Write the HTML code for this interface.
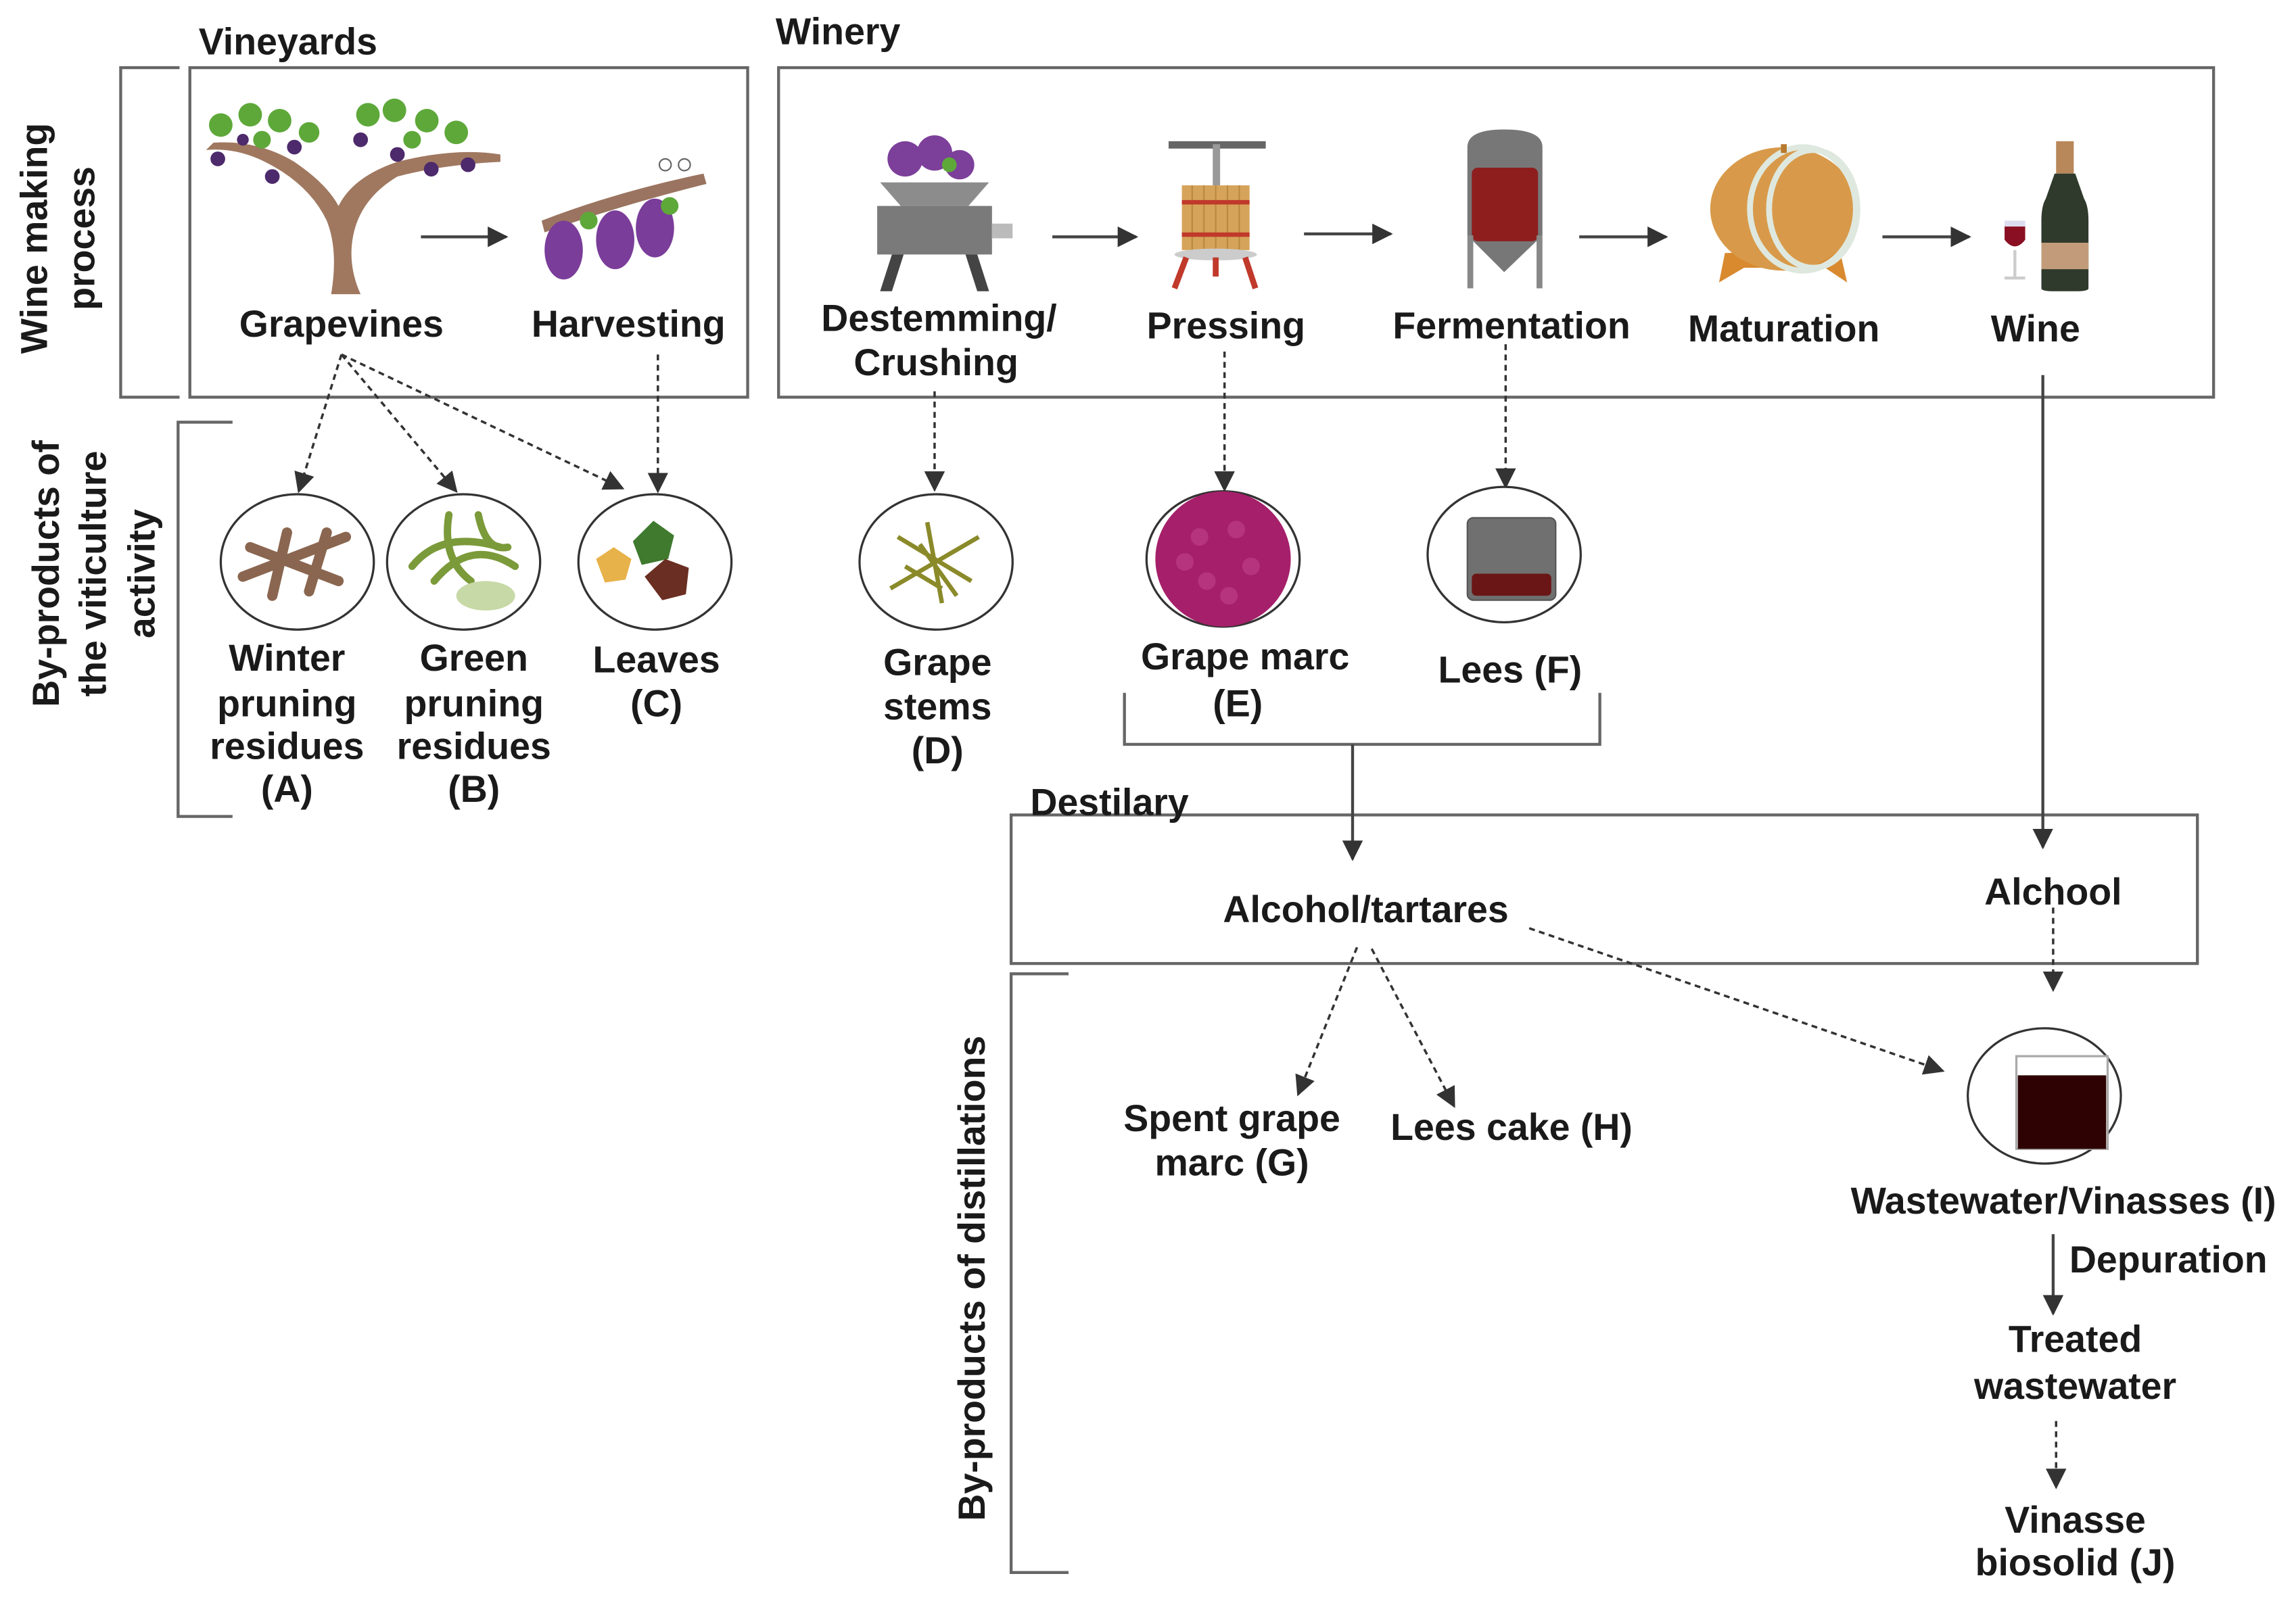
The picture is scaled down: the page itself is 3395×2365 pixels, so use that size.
<!DOCTYPE html>
<html><head><meta charset="utf-8">
<style>
html,body{margin:0;padding:0;background:#fff;}
svg{display:block;}
text{font-family:"Liberation Sans",Arial,sans-serif;font-weight:bold;fill:#1a1a1a;}
</style></head>
<body>
<svg width="3395" height="2365" viewBox="0 0 1560 1087" preserveAspectRatio="none" xmlns="http://www.w3.org/2000/svg">
<defs>
<marker id="ah2" viewBox="0 0 10 10" refX="9" refY="5" markerWidth="14" markerHeight="14" orient="auto" markerUnits="userSpaceOnUse">
<path d="M0,0 L10,5 L0,10 z" fill="#333"/></marker>
</defs>

<g fill="none" stroke="#666" stroke-width="2">
<rect x="129" y="46" width="379" height="224"/>
<rect x="529" y="46" width="975" height="224"/>
<rect x="687" y="554" width="806" height="101"/>
<polyline points="122,46 82,46 82,270 122,270"/>
<polyline points="158,287 121,287 121,555 158,555"/>
<polyline points="726,662 687,662 687,1069 726,1069"/>
<polyline points="764,471 764,506 1087,506 1087,471"/>
</g>

<text x="135" y="37" font-size="25.5">Vineyards</text>
<text x="527" y="30" font-size="25.5">Winery</text>
<text x="700" y="554" font-size="25.5">Destilary</text>

<text font-size="25.5" text-anchor="middle" transform="translate(32,162) rotate(-90)">Wine making</text>
<text font-size="25.5" text-anchor="middle" transform="translate(64,162) rotate(-90)">process</text>
<text font-size="25.5" text-anchor="middle" transform="translate(40,390) rotate(-90)">By-products of</text>
<text font-size="25.5" text-anchor="middle" transform="translate(72,390) rotate(-90)">the viticulture</text>
<text font-size="25.5" text-anchor="middle" transform="translate(105,390) rotate(-90)">activity</text>
<text font-size="25.5" text-anchor="middle" transform="translate(669,869) rotate(-90)">By-products of  distillations</text>

<g font-size="25.5" text-anchor="middle">
<text x="232" y="229">Grapevines</text>
<text x="427" y="229">Harvesting</text>
<text x="638" y="225">Destemming/</text>
<text x="636" y="255">Crushing</text>
<text x="833" y="230">Pressing</text>
<text x="1027" y="230">Fermentation</text>
<text x="1212" y="232">Maturation</text>
<text x="1383" y="232">Wine</text>

<text x="195" y="456">Winter</text>
<text x="195" y="487">pruning</text>
<text x="195" y="516">residues</text>
<text x="195" y="545">(A)</text>
<text x="322" y="456">Green</text>
<text x="322" y="487">pruning</text>
<text x="322" y="516">residues</text>
<text x="322" y="545">(B)</text>
<text x="446" y="457">Leaves</text>
<text x="446" y="487">(C)</text>
<text x="637" y="459">Grape</text>
<text x="637" y="489">stems</text>
<text x="637" y="519">(D)</text>
<text x="846" y="455">Grape marc</text>
<text x="841" y="487">(E)</text>
<text x="1026" y="464">Lees (F)</text>

<text x="928" y="627">Alcohol/tartares</text>
<text x="1395" y="615">Alchool</text>
<text x="837" y="769">Spent grape</text>
<text x="837" y="799">marc (G)</text>
<text x="1027" y="775">Lees cake (H)</text>
<text x="1402" y="825">Wastewater/Vinasses (I)</text>
<text x="1410" y="919">Treated</text>
<text x="1410" y="951">wastewater</text>
<text x="1410" y="1042">Vinasse</text>
<text x="1410" y="1071">biosolid (J)</text>
</g>
<text x="1406" y="865" font-size="25.5">Depuration</text>

<g stroke="#444" stroke-width="2" fill="none" marker-end="url(#ah2)">
<line x1="286" y1="161" x2="344" y2="161"/>
<line x1="715" y1="161" x2="772" y2="161"/>
<line x1="886" y1="159" x2="945" y2="159"/>
<line x1="1073" y1="161" x2="1132" y2="161"/>
<line x1="1279" y1="161" x2="1338" y2="161"/>
<line x1="919" y1="506" x2="919" y2="584"/>
<line x1="1388" y1="255" x2="1388" y2="576"/>
<line x1="1395" y1="839" x2="1395" y2="893"/>
</g>
<g stroke="#333" stroke-width="1.6" fill="none" stroke-dasharray="4,3" marker-end="url(#ah2)">
<line x1="232" y1="241" x2="203" y2="334"/>
<line x1="232" y1="241" x2="310" y2="334"/>
<line x1="232" y1="241" x2="423" y2="332"/>
<line x1="447" y1="241" x2="447" y2="334"/>
<line x1="635" y1="266" x2="635" y2="333"/>
<line x1="832" y1="239" x2="832" y2="333"/>
<line x1="1023" y1="234" x2="1023" y2="331"/>
<line x1="1395" y1="617" x2="1395" y2="673"/>
<line x1="1039" y1="631" x2="1320" y2="728"/>
<line x1="922" y1="644" x2="882" y2="744"/>
<line x1="932" y1="645" x2="988" y2="752"/>
<line x1="1397" y1="966" x2="1397" y2="1011"/>
</g>

<g fill="#fff" stroke="#333" stroke-width="1.5">
<ellipse cx="202" cy="382" rx="52" ry="46"/>
<ellipse cx="315" cy="382" rx="52" ry="46"/>
<ellipse cx="445" cy="382" rx="52" ry="46"/>
<ellipse cx="636" cy="382" rx="52" ry="46"/>
<ellipse cx="831" cy="380" rx="52" ry="46"/>
<ellipse cx="1022" cy="377" rx="52" ry="46"/>
<ellipse cx="1389" cy="745" rx="52" ry="46"/>
</g>
<g stroke="#8a6650" stroke-width="7" stroke-linecap="round" fill="none">
<path d="M165,392 L235,365 M170,372 L230,395 M185,405 L195,362 M210,402 L222,362"/>
</g>
<g stroke="#7b9a3a" stroke-width="5" fill="none" stroke-linecap="round">
<path d="M280,385 Q300,360 340,372 M295,395 Q320,365 350,385 M305,350 Q300,380 320,395 M325,350 Q330,375 345,372"/>
</g>
<ellipse cx="330" cy="405" rx="20" ry="10" fill="#c7d9a6"/>
<path d="M430,368 l14,-14 l14,10 l-4,16 l-18,4 z" fill="#3f7a2e"/>
<path d="M438,392 l14,-12 l16,6 l-2,18 l-16,4 z" fill="#6b2e22"/>
<path d="M405,380 l12,-8 l12,8 l-4,14 l-14,2 z" fill="#e8b24a"/>
<g stroke="#8a8a2a" stroke-width="3" fill="none">
<path d="M605,400 L665,365 M615,385 L640,400 M625,370 L650,405 M610,365 L660,395 M630,355 L640,410"/>
</g>
<circle cx="831" cy="380" r="46" fill="#a51f6a"/>
<g fill="#c2418a" opacity="0.6">
<circle cx="815" cy="365" r="6"/><circle cx="840" cy="360" r="6"/><circle cx="850" cy="385" r="6"/><circle cx="820" cy="395" r="6"/><circle cx="835" cy="405" r="6"/><circle cx="805" cy="382" r="6"/>
</g>
<rect x="997" y="352" width="60" height="56" rx="4" fill="#707070" stroke="#555"/>
<rect x="1000" y="390" width="54" height="15" rx="3" fill="#6b1616"/>
<rect x="1370" y="718" width="62" height="63" fill="#fff" stroke="#aaa" stroke-width="1.5"/>
<rect x="1371" y="731" width="60" height="50" fill="#2e0202"/>

<g>
<path d="M225,200 Q230,170 222,150 Q210,125 180,110 Q160,100 140,102 L145,97 Q175,95 200,110 Q222,125 230,140 Q240,120 270,110 Q310,100 340,105 L340,110 Q300,112 270,120 Q245,135 240,160 Q236,180 245,200 z" fill="#a07860"/>
<g fill="#5ea83a">
<circle cx="150" cy="85" r="8"/><circle cx="170" cy="78" r="8"/><circle cx="190" cy="82" r="8"/><circle cx="210" cy="90" r="7"/><circle cx="250" cy="78" r="8"/><circle cx="268" cy="75" r="8"/><circle cx="290" cy="82" r="8"/><circle cx="310" cy="90" r="8"/><circle cx="178" cy="95" r="6"/><circle cx="280" cy="95" r="6"/>
</g>
<g fill="#4d2a6b">
<circle cx="148" cy="108" r="5"/><circle cx="185" cy="120" r="5"/><circle cx="200" cy="100" r="5"/><circle cx="245" cy="95" r="5"/><circle cx="270" cy="105" r="5"/><circle cx="293" cy="115" r="5"/><circle cx="318" cy="112" r="5"/><circle cx="165" cy="95" r="4"/>
</g>
</g>
<g>
<path d="M368,150 Q420,130 478,118 L480,125 Q420,140 370,158 z" fill="#9a7460"/>
<g fill="#7a3d9a">
<ellipse cx="383" cy="170" rx="13" ry="20"/><ellipse cx="418" cy="163" rx="13" ry="20"/><ellipse cx="445" cy="155" rx="13" ry="20"/>
</g>
<circle cx="452" cy="112" r="4" fill="none" stroke="#666"/><circle cx="465" cy="112" r="4" fill="none" stroke="#666"/>
<circle cx="400" cy="150" r="6" fill="#5ea83a"/><circle cx="455" cy="140" r="6" fill="#5ea83a"/>
</g>
<g>
<circle cx="615" cy="108" r="12" fill="#7c3f9a"/><circle cx="635" cy="104" r="12" fill="#7c3f9a"/><circle cx="652" cy="112" r="10" fill="#7c3f9a"/><circle cx="645" cy="112" r="5" fill="#5ea83a"/>
<polygon points="598,124 672,124 658,140 612,140" fill="#8c8c8c"/>
<rect x="596" y="140" width="78" height="33" fill="#7a7a7a"/>
<rect x="674" y="152" width="14" height="10" fill="#bbb"/>
<polygon points="606,173 614,173 606,198 598,198" fill="#444"/>
<polygon points="656,173 664,173 672,198 664,198" fill="#444"/>
</g>
<g>
<rect x="794" y="96" width="66" height="5" fill="#666"/>
<rect x="824" y="98" width="5" height="28" fill="#999"/>
<rect x="803" y="126" width="46" height="44" fill="#d6a35a"/>
<g stroke="#b88a40" stroke-width="1"><line x1="810" y1="126" x2="810" y2="170"/><line x1="818" y1="126" x2="818" y2="170"/><line x1="826" y1="126" x2="826" y2="170"/><line x1="834" y1="126" x2="834" y2="170"/><line x1="842" y1="126" x2="842" y2="170"/></g>
<rect x="803" y="136" width="46" height="3" fill="#c0392b"/><rect x="803" y="158" width="46" height="3" fill="#c0392b"/>
<ellipse cx="826" cy="173" rx="28" ry="4" fill="#ccc"/>
<path d="M806,175 L798,196 M846,175 L853,196 M826,175 L826,188" stroke="#c0392b" stroke-width="4"/>
</g>
<g>
<path d="M997,100 Q997,88 1022,88 Q1048,88 1048,100 L1048,160 L1022,185 L997,160 z" fill="#777"/>
<rect x="1000" y="114" width="45" height="50" rx="4" fill="#8e1e1e"/>
<rect x="997" y="160" width="4" height="36" fill="#888"/><rect x="1044" y="160" width="4" height="36" fill="#888"/>
</g>
<g>
<path d="M1172,172 L1168,192 L1185,182 L1240,182 L1255,192 L1250,170 z" fill="#d9892e"/>
<ellipse cx="1212" cy="142" rx="50" ry="42" fill="#d89a4a"/>
<ellipse cx="1225" cy="142" rx="36" ry="42" fill="none" stroke="#dfe8df" stroke-width="4"/>
<ellipse cx="1232" cy="142" rx="30" ry="40" fill="none" stroke="#dfe8df" stroke-width="4"/>
<rect x="1210" y="98" width="4" height="6" fill="#b87a30"/>
</g>
<g>
<path d="M1362,153 L1376,153 L1376,163 Q1369,172 1362,163 z" fill="#8a0f22"/>
<rect x="1362" y="150" width="14" height="4" fill="#dde"/>
<rect x="1368" y="170" width="2" height="18" fill="#ccc"/><rect x="1362" y="188" width="14" height="2" fill="#ccc"/>
<rect x="1397" y="96" width="12" height="22" fill="#b8875a"/>
<path d="M1396,118 L1410,118 L1416,135 Q1419,140 1419,150 L1419,196 Q1419,198 1410,198 L1396,198 Q1387,198 1387,196 L1387,150 Q1387,140 1390,135 z" fill="#2f3a2c"/>
<rect x="1387" y="165" width="32" height="18" fill="#c29c7a"/>
</g>
</svg>
</body></html>
